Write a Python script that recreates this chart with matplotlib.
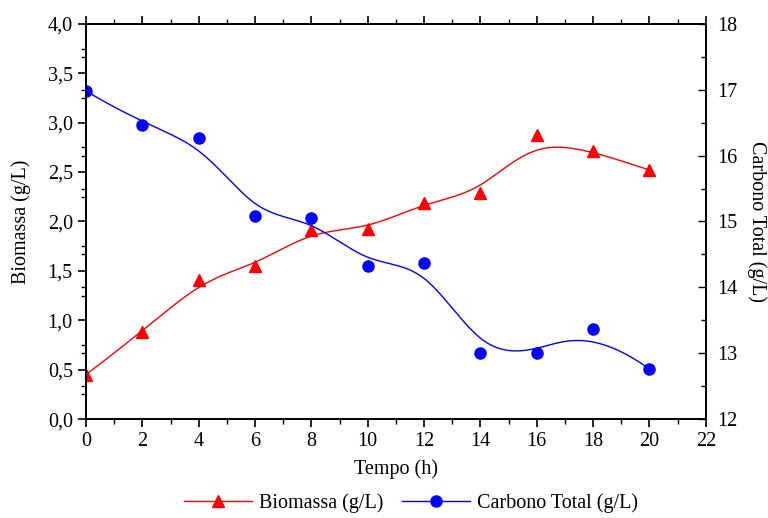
import matplotlib
matplotlib.use('Agg')
import matplotlib.pyplot as plt
import numpy as np
from matplotlib.lines import Line2D
from matplotlib.ticker import MultipleLocator, FixedLocator, FuncFormatter

tempo = [0, 2, 4, 6, 8, 10, 12, 14, 16, 18, 20]
biomassa = [0.45, 0.88, 1.41, 1.55, 1.91, 1.92, 2.19, 2.29, 2.87, 2.71, 2.52]
carbono = [16.98, 16.47, 16.27, 15.08, 15.05, 14.33, 14.37, 13.0, 13.0, 13.37, 12.76]

VERMELHO = '#ff0000'
AZUL = '#0000ff'
FONTE = 14.5

plt.rcParams['font.family'] = ['Liberation Serif', 'DejaVu Serif']


def bspline(px, py, grau=3, n=400):
    """Curva B-spline presa nas pontas, com os pontos como pontos de controle."""
    px = np.asarray(px, float)
    py = np.asarray(py, float)
    m = len(px)
    internos = np.linspace(0, 1, m - grau + 1)
    t = np.concatenate([[0] * grau, internos, [1] * grau])
    u = np.linspace(0, 1, n)
    N = np.zeros((n, len(t) - 1))
    for i in range(len(t) - 1):
        N[:, i] = (t[i] <= u) & (u < t[i + 1])
    N[-1, m - 1] = 1.0
    for p in range(1, grau + 1):
        novo = np.zeros((n, len(t) - 1 - p))
        for i in range(len(t) - 1 - p):
            d1 = t[i + p] - t[i]
            d2 = t[i + p + 1] - t[i + 1]
            if d1 > 0:
                novo[:, i] += (u - t[i]) / d1 * N[:, i]
            if d2 > 0:
                novo[:, i] += (t[i + p + 1] - u) / d2 * N[:, i + 1]
        N = novo
    return N @ px, N @ py


fig = plt.figure(figsize=(7.68, 5.18), dpi=100)
ax = fig.add_axes([0.112, 0.191, 0.807, 0.763])
ax2 = ax.twinx()

xb, yb = bspline(tempo, biomassa)
ax.plot(xb, yb, color=VERMELHO, lw=1.0)
ax.plot(tempo, biomassa, ls='none', marker='^', ms=9, color=VERMELHO)

xc, yc = bspline(tempo, carbono)
ax2.plot(xc, yc, color=AZUL, lw=1.0)
ax2.plot(tempo, carbono, ls='none', marker='o', ms=8, color=AZUL)

ax.set_xlim(0, 22)
ax.set_ylim(0, 4)
ax2.set_ylim(12, 18)

virgula = FuncFormatter(lambda v, pos: f'{v:.1f}'.replace('.', ','))
ax.xaxis.set_major_locator(MultipleLocator(2))
ax.xaxis.set_minor_locator(MultipleLocator(1))
ax.yaxis.set_major_locator(MultipleLocator(0.5))
ax.yaxis.set_major_formatter(virgula)
# ticks menores do eixo esquerdo + ticks do eixo direito espelhados
y0, y1 = ax2.get_ylim()
espelho = [(v - y0) / (y1 - y0) * 4 for v in np.arange(12, 18.01, 0.5)]
menores = sorted(set(np.round(list(np.arange(0, 4.01, 0.25)) + espelho, 4)))
ax.yaxis.set_minor_locator(FixedLocator(menores))
ax2.yaxis.set_major_locator(MultipleLocator(1))
ax2.yaxis.set_minor_locator(MultipleLocator(0.5))

ax.tick_params(axis='both', which='major', direction='out', length=6, width=1.2,
               labelsize=FONTE, top=True)
ax.tick_params(axis='both', which='minor', direction='out', length=3.5, width=1.0,
               top=True)
ax2.tick_params(axis='y', which='major', direction='in', length=6, width=1.0,
                labelsize=FONTE, pad=8)
ax2.tick_params(axis='y', which='minor', direction='in', length=3.5, width=1.0)

for s in ax.spines.values():
    s.set_linewidth(1.3)
for s in ax2.spines.values():
    s.set_linewidth(1.3)

ax.set_xlabel('Tempo (h)', fontsize=FONTE, labelpad=6)
ax.set_ylabel('Biomassa (g/L)', fontsize=FONTE, labelpad=12)
ax2.set_ylabel('Carbono Total (g/L)', fontsize=FONTE, rotation=270, labelpad=21)

alcas = [
    Line2D([], [], color=VERMELHO, lw=1.0, marker='^', ms=9),
    Line2D([], [], color=AZUL, lw=1.0, marker='o', ms=8),
]
fig.legend(alcas, ['Biomassa (g/L)', 'Carbono Total (g/L)'], loc='center',
           bbox_to_anchor=(0.535, 0.028), ncol=2, frameon=False, fontsize=FONTE,
           handlelength=3.4, columnspacing=0.9, handletextpad=0.35)

fig.savefig('out.png', dpi=100)
